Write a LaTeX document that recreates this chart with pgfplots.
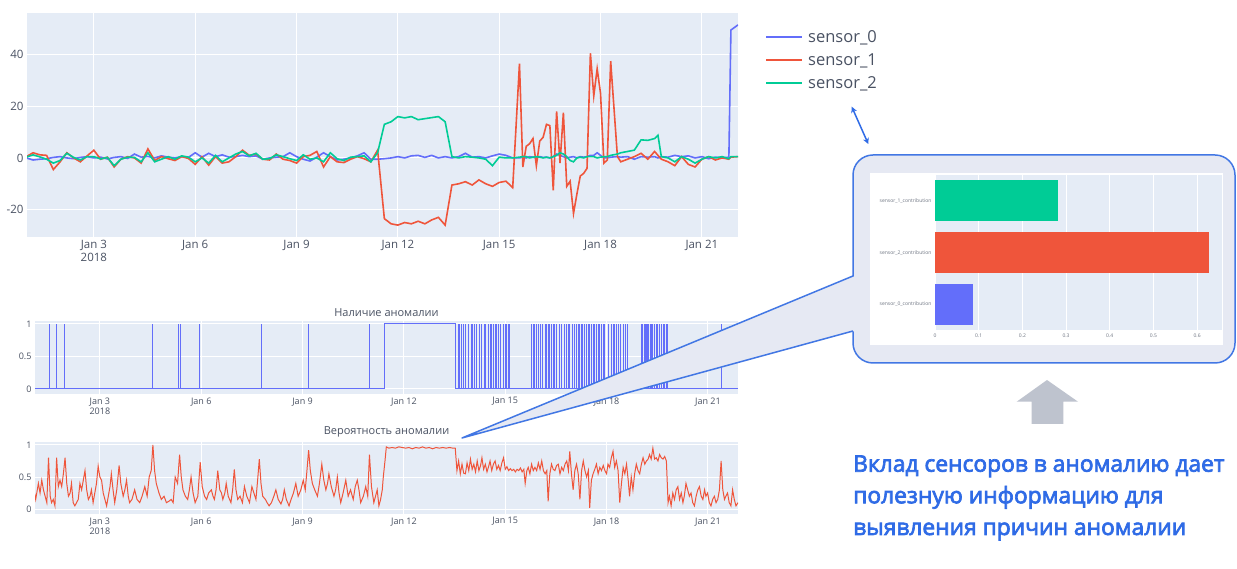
\documentclass[border=0pt]{standalone}
\usepackage{fontspec}
\setmainfont{Open Sans}
\newfontfamily\bluefont{Open Sans}[FakeBold=3]
\usepackage{pgfplots}
\usepackage{pgfplotstable}
\pgfplotsset{compat=1.18}
\usetikzlibrary{arrows.meta}
\definecolor{plotbg}{HTML}{E5ECF6}
\definecolor{sz}{HTML}{636EFA}
\definecolor{so}{HTML}{EF553B}
\definecolor{st}{HTML}{00CC96}
\definecolor{tick}{HTML}{4A5263}
\definecolor{callblue}{HTML}{4277E4}
\definecolor{txtblue}{HTML}{2F6BE6}
\definecolor{panel}{HTML}{E6E9F3}
\definecolor{arrowgray}{HTML}{BEC3CE}

\pgfplotstableread{
d s0 s1 s2
1.0 0.0 0.5 0.3
1.2 -0.8 2.0 1.2
1.4 -0.5 1.2 0.4
1.6 -0.3 1.0 -0.5
1.8 0.2 -4.5 -2.0
2.0 0.5 -1.5 -1.0
2.2 0.0 2.0 1.8
2.4 -0.3 0.0 0.2
2.6 0.2 -1.5 -0.8
2.8 0.5 0.8 0.5
3.0 0.0 3.0 0.5
3.2 0.3 -0.5 -0.4
3.4 -0.4 0.3 0.2
3.6 0.2 -3.5 -3.0
3.8 0.5 -0.5 -0.5
4.0 -0.2 0.5 0.3
4.2 1.5 0.0 0.2
4.4 0.3 -2.0 -1.5
4.6 0.6 3.5 2.0
4.8 0.0 -1.0 -1.5
5.0 0.8 0.5 -0.5
5.2 0.3 -0.3 0.5
5.4 0.0 -1.0 -0.5
5.6 0.5 0.5 0.8
5.8 0.2 -0.2 0.3
6.0 2.0 -2.5 -1.5
6.2 0.3 0.5 0.0
6.4 1.8 -2.8 -2.0
6.6 0.5 0.5 1.0
6.8 1.2 -2.0 -1.5
7.0 0.3 -1.5 0.0
7.2 0.5 0.5 1.5
7.4 1.0 3.0 2.5
7.6 0.5 1.0 0.8
7.8 0.8 1.5 1.8
8.0 -0.5 -0.5 -0.5
8.2 0.0 -0.8 -0.3
8.4 0.3 1.5 1.2
8.6 0.5 -0.5 0.5
8.8 2.0 -1.0 -0.3
9.0 0.5 -2.0 -1.0
9.2 -0.5 0.5 1.2
9.4 -1.2 1.0 -0.5
9.6 0.3 2.5 0.0
9.8 2.0 -3.5 -1.5
10.0 0.5 0.5 2.0
10.2 -0.8 -1.5 -0.3
10.4 -0.5 -1.8 -1.0
10.6 0.0 -0.5 0.3
10.8 0.8 0.5 0.5
11.0 2.0 -0.3 0.8
11.2 -0.5 -1.5 -1.5
11.4 -0.5 3.0 2.0
11.6 -0.3 -23.5 13.0
11.8 0.0 -25.5 14.0
12.0 0.5 -26.0 16.0
12.2 0.0 -25.0 15.5
12.4 0.8 -25.5 16.0
12.6 1.0 -24.5 14.8
12.8 0.2 -25.5 15.2
13.0 1.0 -24.0 15.6
13.2 0.0 -23.0 16.0
13.4 0.5 -26.0 14.0
13.6 0.0 -10.5 0.5
13.8 0.5 -10.0 0.0
14.0 1.8 -9.2 0.5
14.2 0.3 -10.5 0.3
14.4 0.5 -8.5 0.0
14.6 0.0 -10.0 -0.5
14.8 0.8 -11.0 -3.0
15.0 1.5 -9.5 0.3
15.2 1.0 -9.0 0.0
15.4 0.0 -11.5 0.0
15.6 0.0 36.5 0.3
15.7 0.3 -3.5 0.5
15.8 0.0 4.5 0.5
15.9 0.5 5.5 0.0
16.0 0.3 7.5 0.3
16.1 0.0 -3.0 0.5
16.2 0.5 6.5 0.3
16.3 0.2 8.0 0.0
16.4 0.3 13.0 0.3
16.5 0.0 12.5 0.0
16.6 0.5 -12.5 0.5
16.7 1.5 18.0 1.0
16.8 1.0 -2.0 2.0
16.9 0.5 17.5 1.5
17.0 0.0 -11.0 0.5
17.1 0.3 -9.0 -1.0
17.2 0.5 -21.5 -1.5
17.3 0.0 -14.0 0.0
17.4 0.5 -7.0 0.3
17.5 0.3 -6.0 0.0
17.6 0.5 -4.0 0.5
17.7 1.0 40.5 0.5
17.8 1.0 24.0 0.5
17.9 2.0 34.5 0.0
18.0 1.0 25.0 0.3
18.1 0.0 -2.0 0.5
18.2 0.0 -0.8 0.5
18.3 0.3 37.5 1.0
18.5 0.5 0.5 1.5
18.6 0.3 -1.5 2.0
18.8 0.5 -0.5 2.5
19.0 -0.5 0.5 3.0
19.2 0.5 1.8 7.0
19.4 0.3 -0.5 6.8
19.6 0.5 2.5 7.5
19.7 0.0 1.0 8.8
19.8 0.5 -0.5 0.5
20.0 0.3 -1.5 0.0
20.2 1.0 -3.0 -1.5
20.4 0.5 0.5 0.5
20.6 0.8 -2.5 -0.5
20.8 0.0 -3.5 -2.0
21.0 0.5 -0.5 -0.5
21.2 -0.3 0.5 0.5
21.4 0.3 -0.8 0.0
21.6 0.0 0.0 0.5
21.8 0.3 -0.5 -0.3
21.86 49.5 0.3 0.5
22.07 51.5 0.5 0.5
}\sensors

\pgfplotsset{
  plotly/.style={
    scale only axis,
    axis background/.style={fill=plotbg},
    axis line style={draw=none},
    major tick length=0pt,
    grid=major,
    major grid style={white, line width=1pt},
    tick label style={text=tick},
    /pgf/number format/assume math mode=true,
  },
}

\begin{document}
\begin{tikzpicture}
\path[use as bounding box, fill=white] (0pt,0pt) rectangle (1237pt,569pt);

% ---------- top chart ----------
\begin{axis}[plotly, at={(27pt,332pt)}, anchor=south west, width=711pt, height=224pt,
  xmin=1.02, xmax=22.07, ymin=-30.6, ymax=56.1,
  xtick={3,6,9,12,15,18,21},
  xticklabels={{Jan 3\\2018},Jan 6,Jan 9,Jan 12,Jan 15,Jan 18,Jan 21},
  xticklabel style={align=center, font=\fontsize{11.5}{12.5}\selectfont},
  ytick={-20,0,20,40},
  yticklabel style={font=\fontsize{11.5}{12.5}\selectfont},
]
\addplot[sz, line width=1.6pt] table[x=d, y=s0] {\sensors};
\addplot[so, line width=1.6pt] table[x=d, y=s1] {\sensors};
\addplot[st, line width=1.6pt] table[x=d, y=s2] {\sensors};
\end{axis}

% legend of the top chart
\draw[sz, line width=2.2pt] (766pt,532.3pt) -- (802pt,532.3pt);
\draw[so, line width=2.2pt] (766pt,509.3pt) -- (802pt,509.3pt);
\draw[st, line width=2.2pt] (766pt,486.3pt) -- (802pt,486.3pt);
\node[anchor=base west, inner sep=0pt, text=tick, font=\fontsize{16.5}{18}\selectfont] at (808pt,526.3pt) {sensor\_0};
\node[anchor=base west, inner sep=0pt, text=tick, font=\fontsize{16.5}{18}\selectfont] at (808pt,503.3pt) {sensor\_1};
\node[anchor=base west, inner sep=0pt, text=tick, font=\fontsize{16.5}{18}\selectfont] at (808pt,480.3pt) {sensor\_2};

% ---------- middle chart ----------
\begin{axis}[plotly, at={(35pt,175pt)}, anchor=south west, width=703pt, height=73pt,
  xmin=1.08, xmax=21.89, ymin=-0.077, ymax=1.046,
  xtick={3,6,9,12,15,18,21},
  xticklabels={{Jan 3\\2018},Jan 6,Jan 9,Jan 12,Jan 15,Jan 18,Jan 21},
  xticklabel style={align=center, font=\fontsize{9}{10}\selectfont},
  ytick={0,0.5,1}, yticklabels={0,0.5,1},
  yticklabel style={font=\fontsize{9}{10}\selectfont},
  title={Наличие аномалии},
  title style={font=\fontsize{11}{13}\selectfont, text=tick, yshift=-5pt},
]
\addplot[sz, line width=1pt] coordinates {(1.08,0)(11.44,0)(11.44,1)(13.52,1)(13.52,0)(21.89,0)};
\addplot[sz, line width=1pt, ycomb] coordinates {
(1.50,1)(1.72,1)(1.95,1)(4.57,1)(5.34,1)(5.39,1)(5.95,1)(7.77,1)(9.17,1)(10.99,1)
(13.62,1)(13.66,1)(13.70,1)(13.76,1)(13.82,1)(13.90,1)(13.99,1)(14.04,1)(14.09,1)(14.15,1)(14.23,1)(14.31,1)
(14.38,1)(14.43,1)(14.49,1)(14.55,1)(14.60,1)(14.65,1)(14.70,1)(14.75,1)(14.80,1)(14.86,1)(14.95,1)(15.00,1)
(15.05,1)(15.10,1)(15.14,1)
(15.78,1)(15.83,1)(15.88,1)(15.93,1)(15.98,1)(16.04,1)(16.10,1)(16.18,1)(16.22,1)(16.27,1)(16.32,1)(16.37,1)
(16.42,1)(16.47,1)(16.52,1)(16.60,1)(16.67,1)(16.75,1)(16.82,1)(16.87,1)(16.91,1)(17.00,1)(17.06,1)(17.11,1)
(17.16,1)(17.21,1)(17.26,1)(17.30,1)(17.36,1)(17.40,1)(17.45,1)(17.50,1)(17.55,1)(17.60,1)(17.65,1)(17.70,1)
(17.75,1)(17.80,1)(17.85,1)(17.90,1)(17.95,1)(18.05,1)(18.14,1)(18.19,1)(18.24,1)(18.29,1)(18.34,1)(18.42,1)
(18.49,1)(18.55,1)(18.62,1)
(19.03,1)(19.07,1)(19.11,1)(19.15,1)(19.18,1)(19.21,1)(19.25,1)(19.29,1)(19.32,1)(19.37,1)(19.42,1)(19.47,1)
(19.52,1)(19.57,1)(19.62,1)(19.67,1)(19.72,1)(19.77,1)(19.81,1)(21.39,1)};
\end{axis}

% ---------- bottom chart ----------
\begin{axis}[plotly, at={(35pt,55pt)}, anchor=south west, width=703pt, height=72pt,
  xmin=1.08, xmax=21.89, ymin=-0.077, ymax=1.046,
  xtick={3,6,9,12,15,18,21},
  xticklabels={{Jan 3\\2018},Jan 6,Jan 9,Jan 12,Jan 15,Jan 18,Jan 21},
  xticklabel style={align=center, font=\fontsize{9}{10}\selectfont},
  ytick={0,0.5,1}, yticklabels={0,0.5,1},
  yticklabel style={font=\fontsize{9}{10}\selectfont},
  title={Вероятность аномалии},
  title style={font=\fontsize{11}{13}\selectfont, text=tick, yshift=-5pt},
]
\addplot[so, line width=1pt] coordinates {
(1.0,0.05)(1.05,0.3)(1.1,0.15)(1.18,0.4)(1.23,0.25)(1.28,0.45)(1.33,0.3)(1.38,0.2)(1.43,0.1)(1.48,0.8)
(1.53,0.2)(1.57,0.1)(1.62,0.15)(1.67,0.05)(1.72,0.8)(1.77,0.35)(1.82,0.45)(1.87,0.35)(1.92,0.55)(1.97,0.8)
(2.02,0.4)(2.07,0.2)(2.12,0.25)(2.16,0.4)(2.21,0.1)(2.26,0.05)(2.31,0.1)(2.36,0.15)(2.41,0.4)(2.46,0.3)
(2.51,0.45)(2.56,0.6)(2.61,0.3)(2.66,0.15)(2.71,0.2)(2.75,0.3)(2.8,0.1)(2.85,0.25)(2.9,0.4)(2.95,0.67)
(3.0,0.5)(3.05,0.45)(3.1,0.25)(3.15,0.15)(3.2,0.05)(3.25,0.2)(3.3,0.35)(3.34,0.55)(3.39,0.3)(3.44,0.1)
(3.5,0.3)(3.57,0.68)(3.62,0.4)(3.69,0.2)(3.74,0.3)(3.79,0.45)(3.84,0.2)(3.88,0.1)(3.95,0.15)(4.03,0.3)
(4.1,0.15)(4.18,0.1)(4.25,0.2)(4.33,0.35)(4.4,0.2)(4.46,0.5)(4.52,0.6)(4.57,1.0)(4.62,0.6)(4.67,0.4)
(4.75,0.25)(4.82,0.15)(4.9,0.2)(4.97,0.1)(5.04,0.12)(5.11,0.15)(5.17,0.1)(5.23,0.5)(5.3,0.4)(5.36,0.85)
(5.41,0.5)(5.46,0.3)(5.53,0.2)(5.6,0.15)(5.65,0.3)(5.7,0.5)(5.76,0.25)(5.82,0.1)(5.9,0.2)(5.97,0.73)
(6.03,0.35)(6.1,0.2)(6.16,0.15)(6.22,0.25)(6.3,0.3)(6.35,0.2)(6.39,0.15)(6.44,0.3)(6.49,0.6)(6.55,0.3)
(6.6,0.25)(6.64,0.15)(6.7,0.25)(6.74,0.4)(6.8,0.2)(6.88,0.1)(6.93,0.3)(6.98,0.62)(7.03,0.3)(7.08,0.15)
(7.15,0.2)(7.22,0.1)(7.28,0.35)(7.35,0.2)(7.43,0.1)(7.5,0.35)(7.56,0.25)(7.62,0.15)(7.67,0.45)(7.72,0.78)
(7.77,0.4)(7.82,0.2)(7.9,0.15)(7.95,0.1)(8.01,0.05)(8.08,0.1)(8.15,0.2)(8.21,0.3)(8.28,0.15)(8.36,0.08)
(8.41,0.15)(8.46,0.3)(8.52,0.15)(8.6,0.05)(8.66,0.15)(8.73,0.25)(8.8,0.4)(8.87,0.2)(8.95,0.3)(9.02,0.45)
(9.08,0.3)(9.13,0.6)(9.18,0.92)(9.23,0.6)(9.29,0.4)(9.36,0.3)(9.44,0.2)(9.5,0.4)(9.57,0.7)(9.63,0.45)
(9.69,0.3)(9.74,0.4)(9.78,0.55)(9.85,0.35)(9.93,0.2)(9.98,0.3)(10.03,0.5)(10.08,0.25)(10.13,0.1)(10.2,0.25)
(10.28,0.45)(10.35,0.2)(10.42,0.3)(10.5,0.15)(10.56,0.35)(10.62,0.45)(10.67,0.3)(10.72,0.1)(10.8,0.2)(10.87,0.35)
(10.93,0.2)(10.98,0.85)(11.04,0.35)(11.11,0.1)(11.16,0.2)(11.21,0.3)(11.26,0.05)(11.31,0.15)(11.36,0.3)(11.39,0.5)
(11.44,0.75)(11.48,0.97)(11.55,0.95)(11.65,0.96)(11.75,0.95)(11.85,0.97)(11.95,0.96)(12.05,0.95)(12.15,0.96)(12.25,0.94)
(12.35,0.96)(12.45,0.95)(12.55,0.97)(12.65,0.95)(12.75,0.96)(12.85,0.94)(12.95,0.96)(13.05,0.95)(13.15,0.96)(13.25,0.95)
(13.35,0.96)(13.45,0.95)(13.52,0.95)(13.57,0.6)(13.62,0.75)(13.67,0.55)(13.72,0.7)(13.77,0.56)(13.82,0.55)(13.87,0.72)
(13.92,0.6)(13.97,0.78)(14.02,0.62)(14.07,0.7)(14.12,0.58)(14.17,0.75)(14.22,0.6)(14.27,0.68)(14.31,0.8)(14.36,0.62)
(14.41,0.7)(14.46,0.58)(14.5,0.65)(14.55,0.75)(14.6,0.6)(14.65,0.7)(14.7,0.75)(14.75,0.62)(14.8,0.68)(14.85,0.6)
(14.9,0.72)(14.95,0.8)(15.0,0.62)(15.05,0.66)(15.1,0.6)(15.15,0.63)(15.2,0.6)(15.25,0.62)(15.3,0.58)(15.35,0.62)
(15.4,0.6)(15.45,0.64)(15.5,0.58)(15.55,0.62)(15.59,0.4)(15.64,0.6)(15.68,0.65)(15.73,0.55)(15.78,0.7)(15.83,0.6)
(15.88,0.65)(15.93,0.6)(15.98,0.72)(16.03,0.62)(16.08,0.75)(16.13,0.6)(16.18,0.55)(16.23,0.6)(16.27,0.12)(16.32,0.55)
(16.37,0.7)(16.42,0.62)(16.47,0.6)(16.52,0.68)(16.57,0.7)(16.62,0.55)(16.67,0.65)(16.72,0.6)(16.77,0.7)(16.82,0.75)
(16.87,0.6)(16.91,0.9)(16.96,0.55)(17.01,0.3)(17.06,0.6)(17.11,0.7)(17.16,0.55)(17.21,0.15)(17.26,0.6)(17.31,0.75)
(17.36,0.6)(17.41,0.5)(17.46,0.6)(17.5,0.02)(17.55,0.45)(17.6,0.55)(17.65,0.62)(17.7,0.7)(17.75,0.55)(17.8,0.65)
(17.85,0.6)(17.9,0.68)(17.95,0.6)(18.0,0.55)(18.04,0.7)(18.09,0.65)(18.14,0.8)(18.19,0.9)(18.24,0.65)(18.29,0.75)
(18.34,0.6)(18.39,0.1)(18.44,0.4)(18.49,0.65)(18.54,0.55)(18.59,0.7)(18.64,0.45)(18.68,0.2)(18.73,0.5)(18.78,0.3)
(18.83,0.55)(18.88,0.7)(18.93,0.6)(18.98,0.55)(19.03,0.7)(19.08,0.8)(19.13,0.7)(19.18,0.75)(19.23,0.78)(19.27,0.85)
(19.32,0.78)(19.37,0.95)(19.42,0.78)(19.47,0.8)(19.52,0.75)(19.57,0.85)(19.62,0.8)(19.67,0.78)(19.72,0.82)(19.77,0.75)
(19.82,0.1)(19.86,0.2)(19.91,0.05)(19.96,0.25)(20.01,0.15)(20.06,0.3)(20.11,0.35)(20.16,0.15)(20.21,0.25)(20.26,0.1)
(20.3,0.2)(20.35,0.4)(20.4,0.3)(20.45,0.2)(20.5,0.25)(20.55,0.1)(20.6,0.05)(20.65,0.2)(20.7,0.3)(20.75,0.35)
(20.8,0.2)(20.85,0.15)(20.9,0.3)(20.94,0.2)(20.99,0.25)(21.04,0.1)(21.09,0.05)(21.14,0.15)(21.19,0.2)(21.24,0.1)
(21.29,0.15)(21.34,0.3)(21.39,0.75)(21.44,0.3)(21.49,0.15)(21.53,0.2)(21.58,0.25)(21.63,0.1)(21.68,0.05)(21.73,0.3)
(21.78,0.15)(21.83,0.05)(21.89,0.1)};
\end{axis}

% ---------- callout ----------
\filldraw[fill=panel, draw=callblue, line width=1.5pt, rounded corners=20pt] (853pt,206pt) rectangle (1235pt,414pt);
\fill[panel] (855pt,293pt) -- (462pt,131pt) -- (855pt,238pt) -- cycle;
\fill[panel] (851pt,239pt) rectangle (856pt,292pt);
\draw[callblue, line width=1.5pt, line join=round] (853pt,293pt) -- (462pt,131pt) -- (853pt,238pt);
\fill[white] (870pt,224pt) rectangle (1223pt,396pt);

\begin{axis}[plotly, at={(935pt,239pt)}, anchor=south west, width=287pt, height=155pt,
  xmin=0, xmax=0.657, ymin=-0.5, ymax=2.5,
  xtick={0,0.1,0.2,0.3,0.4,0.5,0.6}, xticklabels={0,0.1,0.2,0.3,0.4,0.5,0.6},
  ytick={0,1,2},
  yticklabels={sensor\_0\_contribution, sensor\_2\_contribution, sensor\_1\_contribution},
  ymajorgrids=false,
  tick label style={font=\fontsize{5}{6}\selectfont, text=tick!80},
]
\addplot[xbar, bar width=41pt, bar shift=0pt, fill=sz, draw=none] coordinates {(0.087,0)};
\addplot[xbar, bar width=41pt, bar shift=0pt, fill=so, draw=none] coordinates {(0.628,1)};
\addplot[xbar, bar width=41pt, bar shift=0pt, fill=st, draw=none] coordinates {(0.281,2)};
\end{axis}

% ---------- arrows and text ----------
\draw[txtblue, line width=1.5pt, {Stealth[length=6pt,width=6pt]}-{Stealth[length=6pt,width=6pt]}] (851.7pt,462.3pt) -- (868.3pt,425pt);
\fill[arrowgray] (1016.7pt,167.3pt) -- (1047pt,189pt) -- (1078pt,167.3pt) -- (1063.3pt,167.3pt) -- (1063.3pt,145pt) -- (1031.7pt,145pt) -- (1031.7pt,167.3pt) -- cycle;
\node[anchor=base west, inner sep=0pt, text=txtblue, font=\bluefont\fontsize{22.8}{26}\selectfont] at (853pt,97.3pt) {Вклад сенсоров в аномалию дает};
\node[anchor=base west, inner sep=0pt, text=txtblue, font=\bluefont\fontsize{22.8}{26}\selectfont] at (853pt,65.7pt) {полезную информацию для};
\node[anchor=base west, inner sep=0pt, text=txtblue, font=\bluefont\fontsize{22.8}{26}\selectfont] at (853pt,34pt) {выявления причин аномалии};
\end{tikzpicture}
\end{document}
